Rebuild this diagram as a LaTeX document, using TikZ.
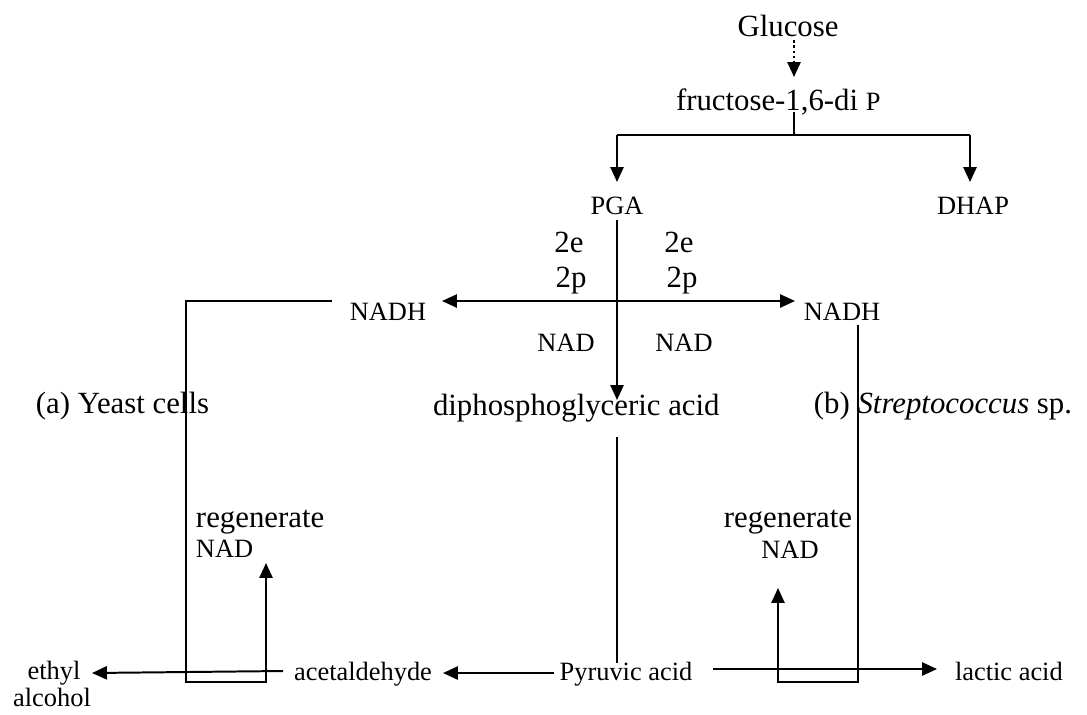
\documentclass[tikz,border=0pt]{standalone}
\usepackage{fontspec}
\setmainfont{Liberation Serif}
\usetikzlibrary{arrows.meta}
\newcommand{\szL}{\fontsize{14pt}{16pt}\selectfont}
\newcommand{\szS}{\fontsize{12pt}{14pt}\selectfont}
\begin{document}
\begin{tikzpicture}[x=0.4545pt,y=-0.4545pt, line width=0.9pt,
  tip/.style={-{Triangle[length=6.8pt,width=6pt]}},
  tips/.style={{Triangle[length=6.8pt,width=6pt]}-{Triangle[length=6.8pt,width=6pt]}},
  lbl/.style={inner sep=0pt, anchor=base, font=\szS},
  lbll/.style={inner sep=0pt, anchor=base, font=\szL}]
\useasboundingbox (0,0) rectangle (1087,714);
% texts
\node[lbll] (glucose) at (788,36) {Glucose};
\node[lbll, anchor=base west] (fru) at (675,110) {fructose-1,6-di {\szS P}};
\node[lbl] (pga) at (617,214) {PGA};
\node[lbl] (dhap) at (973,214) {DHAP};
\node[lbll] (e1) at (569,252) {2e};
\node[lbll] (e2) at (679,252) {2e};
\node[lbll] (p1) at (571,287) {2p};
\node[lbll] (p2) at (682,287) {2p};
\node[lbl] (nadhL) at (388,320) {NADH};
\node[lbl] (nadhR) at (842,320) {NADH};
\node[lbl] (nadL) at (566,351) {NAD};
\node[lbl] (nadR) at (684,351) {NAD};
\node[lbll, anchor=base west] (dpga) at (432,415) {diphosphoglyceric acid};
\node[lbll, anchor=base west] (yeast) at (35,413) {(a) Yeast cells};
\node[lbll, anchor=base east] (strep) at (1073,413) {(b) \textit{Streptococcus} sp.};
\node[lbll, anchor=base west] (regL) at (195,527) {regenerate};
\node[lbl, anchor=base west] (nadL2) at (195,557) {NAD};
\node[lbll] (regR) at (788,527) {regenerate};
\node[lbl] (nadR2) at (790,558) {NAD};
\node[lbl] (ethyl) at (54,679) {ethyl};
\node[lbl] (alcohol) at (52,706) {alcohol};
\node[lbl] (acet) at (363,680) {acetaldehyde};
\node[lbl] (pyr) at (626,680) {Pyruvic acid};
\node[lbl, anchor=base west] (lactic) at (954,680) {lactic acid};
% coordinates
\coordinate (g1) at (794,40);
\coordinate (g2) at (794,77);
\coordinate (f1) at (794,112);
\coordinate (f2) at (794,135);
\coordinate (hl) at (617,135);
\coordinate (hr) at (970,135);
\coordinate (pgaT) at (617,182);
\coordinate (dhapT) at (970,182);
\coordinate (pgaB) at (617,220);
\coordinate (dpgaT) at (617,400);
\coordinate (aL) at (442,301);
\coordinate (aR) at (795,301);
\coordinate (bl1) at (332,301);
\coordinate (bl2) at (186,301);
\coordinate (bl3) at (186,682);
\coordinate (bl4) at (266,682);
\coordinate (bl5) at (266,563);
\coordinate (br1) at (858,325);
\coordinate (br2) at (858,682);
\coordinate (br3) at (778,682);
\coordinate (br4) at (778,588);
\coordinate (dpgaB) at (617,437);
\coordinate (pyrT) at (617,663);
\coordinate (pyrL) at (554,673);
\coordinate (acetR) at (443,673);
\coordinate (acetL) at (283,671);
\coordinate (ethR) at (92,673);
\coordinate (pyrR) at (713,669);
\coordinate (lacL) at (937,669);
% connectors
\draw[tip, dash pattern=on 1.2pt off 1.2pt] (g1) -- (g2);
\draw (f1) -- (f2);
\draw (hl) -- (hr);
\draw[tip] (hl) -- (pgaT);
\draw[tip] (hr) -- (dhapT);
\draw[tip] (pgaB) -- (dpgaT);
\draw[tips] (aL) -- (aR);
\draw[tip] (bl1) -- (bl2) -- (bl3) -- (bl4) -- (bl5);
\draw[tip] (br1) -- (br2) -- (br3) -- (br4);
\draw (dpgaB) -- (pyrT);
\draw[tip] (pyrL) -- (acetR);
\draw[tip] (acetL) -- (ethR);
\draw[tip] (pyrR) -- (lacL);
\end{tikzpicture}
\end{document}
